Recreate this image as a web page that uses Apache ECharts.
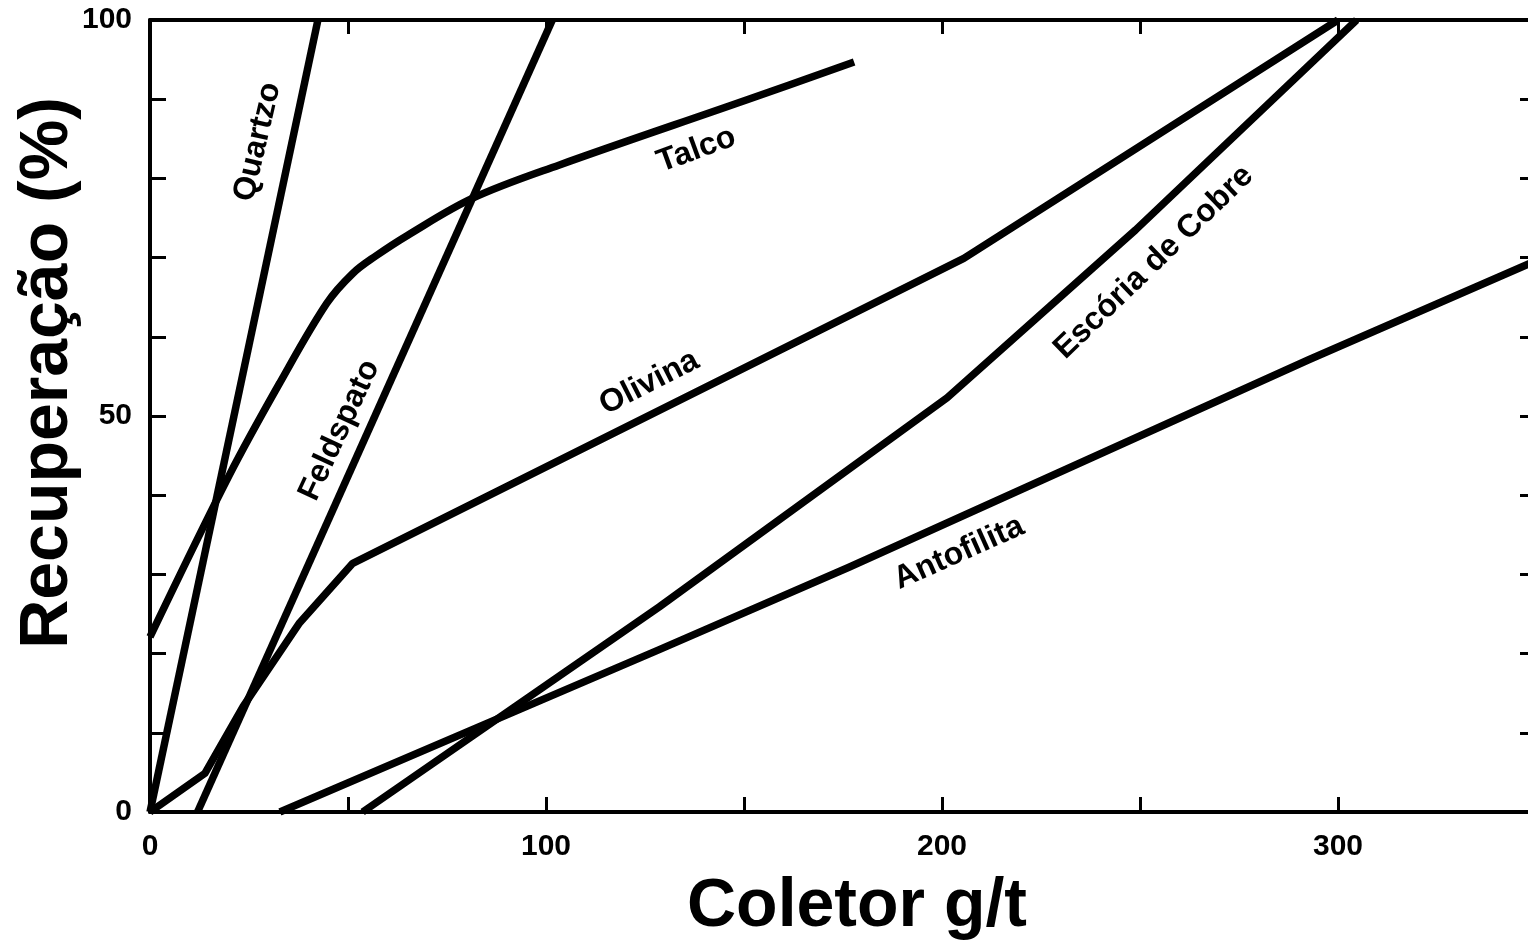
<!DOCTYPE html>
<html>
<head>
<meta charset="utf-8">
<script src="https://cdn.jsdelivr.net/npm/echarts@6/dist/echarts.min.js"></script>
<style>
html,body{margin:0;padding:0;background:#fff;overflow:hidden;}
#c{width:1540px;height:941px;}
</style>
</head>
<body>
<div id="c"></div>
<script>
// ---- data (x = Coletor g/t, y = Recuperação %) ----
const quartzo    = [[0,0],[42.4,100]];
const feldspato  = [[12,0],[101.6,100]];
const talco      = [[0,22.1],[20,42.5],[32.8,54.2],[44.6,64.2],[51.2,68.0],[57,70.2],[65,72.8],[81.5,77.5],[103.4,81.7],[150.6,89.9],[177.8,94.7]];
const olivina    = [[0,0],[13.9,4.9],[23.5,13.3],[37.8,23.9],[51.2,31.4],[205.5,69.9],[300,100]];
const escoria    = [[53.7,0],[128.6,25.9],[201.3,52.3],[248.9,73.5],[304.7,100]];
const antofilita = [[32.8,0],[128.6,20.5],[176.5,30.9],[292.6,57.1],[350,69.6]];

const xTickLabels = [0, 100, 200, 300];
const yTickLabels = [0, 50, 100];

// curve labels: [x, y, text, angle]
const curveLabels = [
  [27.2, 84.6, 'Quartzo', 77],
  [47.9, 48.2, 'Feldspato', 65],
  [138.0, 83.6, 'Talco', 20],
  [126.1, 54.2, 'Olivina', 27],
  [253.5, 69.4, 'Escória de Cobre', 44],
  [204.3, 32.7, 'Antofilita', 24]
];

const FONT = '"Liberation Sans", Arial, Helvetica, sans-serif';
const chart = echarts.init(document.getElementById('c'), null, {renderer:'canvas'});

function lineSeries(name, data, smooth){
  return {
    name, type:'line', data, smooth: smooth || false,
    showSymbol:false, symbol:'none',
    lineStyle:{color:'#000', width:7.5, cap:'butt', join:'round'},
    clip:true, z:3
  };
}

function axisLine(show){ return {show:show, onZero:false, lineStyle:{color:'#000', width:4}}; }

const option = {
  backgroundColor:'#fff',
  animation:false,
  grid:{left:150, top:20, width:1386, height:792, containLabel:false},
  xAxis:[
    {
      type:'value', position:'bottom', min:0, max:350, interval:50,
      axisLine:axisLine(true),
      axisTick:{show:true, inside:true, length:15, lineStyle:{color:'#000', width:3}},
      splitLine:{show:false},
      axisLabel:{
        margin:20, color:'#000', fontFamily:FONT, fontWeight:'bold', fontSize:30,
        formatter:v => xTickLabels.indexOf(v) >= 0 ? String(v) : ''
      }
    },
    {
      type:'value', position:'top', min:0, max:350, interval:50,
      axisLine:axisLine(true),
      axisTick:{show:true, inside:true, length:14, lineStyle:{color:'#000', width:3}},
      splitLine:{show:false},
      axisLabel:{show:false}
    }
  ],
  yAxis:[
    {
      type:'value', position:'left', min:0, max:100, interval:10,
      axisLine:axisLine(true),
      axisTick:{show:true, inside:true, length:16, lineStyle:{color:'#000', width:3}},
      splitLine:{show:false},
      axisLabel:{
        margin:18, color:'#000', fontFamily:FONT, fontWeight:'bold', fontSize:30,
        formatter:v => yTickLabels.indexOf(v) >= 0 ? String(v) : ''
      }
    },
    {
      type:'value', position:'right', min:0, max:100, interval:10,
      axisLine:axisLine(false),
      axisTick:{show:true, inside:true, length:16, lineStyle:{color:'#000', width:3}},
      splitLine:{show:false},
      axisLabel:{show:false}
    }
  ],
  series:[
    lineSeries('Quartzo', quartzo),
    lineSeries('Feldspato', feldspato),
    lineSeries('Talco', talco, 0.35),
    lineSeries('Olivina', olivina),
    lineSeries('Escória de Cobre', escoria),
    lineSeries('Antofilita', antofilita),
    {
      type:'scatter', symbolSize:1, z:5, silent:true,
      itemStyle:{opacity:0},
      data: curveLabels.map(d => ({
        value:[d[0], d[1]],
        label:{show:true, position:'inside', rotate:d[3], formatter:d[2],
               color:'#000', textBorderWidth:0, opacity:1,
               fontFamily:FONT, fontWeight:'bold', fontSize:32}
      }))
    }
  ],
  graphic:[
    {
      type:'text',
      x:857, y:907,
      style:{text:'Coletor g/t', fill:'#000', font:'bold 68px ' + FONT, textAlign:'center', textVerticalAlign:'middle'}
    },
    {
      type:'text',
      x:48, y:373, rotation:Math.PI/2,
      style:{text:'Recuperação (%)', fill:'#000', font:'bold 68px ' + FONT, textAlign:'center', textVerticalAlign:'middle'}
    }
  ]
};
chart.setOption(option);
</script>
</body>
</html>
